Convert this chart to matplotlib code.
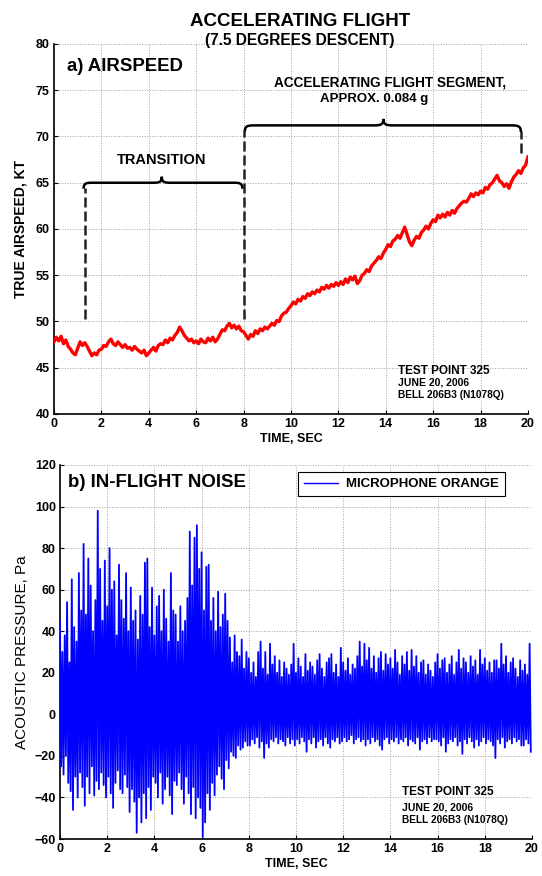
import numpy as np
import matplotlib
matplotlib.use("Agg")
from matplotlib import pyplot as plt
from matplotlib.path import Path
from matplotlib.patches import PathPatch

plt.rcParams["font.family"] = ["Liberation Sans", "DejaVu Sans"]
plt.rcParams["font.weight"] = "bold"

# airspeed, kt, sampled every 0.1 s from 0 to 20 s
airspeed = [
    47.8, 48.3, 47.9, 48.4, 47.6, 48.0, 47.3, 47.0, 46.6, 46.4,
    47.1, 47.8, 47.4, 47.7, 47.3, 46.8, 46.3, 46.6, 46.4, 46.9,
    47.0, 47.4, 47.3, 47.8, 48.1, 47.6, 47.4, 47.8, 47.5, 47.2,
    47.5, 47.1, 47.2, 46.9, 47.3, 47.0, 46.8, 46.6, 46.9, 46.3,
    46.6, 46.9, 47.2, 46.8, 47.4, 47.6, 47.5, 48.0, 47.7, 48.2,
    48.0, 48.5, 48.8, 49.4, 49.0, 48.5, 48.2, 47.9, 48.1, 47.7,
    47.9, 47.6, 48.1, 47.8, 47.7, 48.2, 47.9, 48.3, 47.8, 48.1,
    48.6, 49.1, 49.0, 49.5, 49.8, 49.3, 49.6, 49.2, 49.5, 49.0,
    48.9, 48.5, 48.1, 48.6, 48.4, 49.0, 48.7, 49.2, 49.0, 49.4,
    49.2, 49.5, 49.8, 49.6, 50.1, 50.0, 50.6, 50.9, 51.0, 51.4,
    51.7, 52.1, 51.9, 52.4, 52.2, 52.7, 52.5, 53.0, 52.8, 53.2,
    53.0, 53.4, 53.2, 53.7, 53.5, 53.9, 53.6, 54.0, 53.8, 54.2,
    53.9, 54.3, 54.0, 54.6, 54.2, 54.8, 54.5, 54.9, 54.1, 54.4,
    55.0, 55.2, 55.6, 55.4, 56.0, 56.3, 56.6, 57.0, 56.8, 57.4,
    57.8, 58.3, 58.1, 58.7, 58.9, 59.3, 59.0, 59.6, 60.2, 59.4,
    58.6, 58.2, 58.8, 59.2, 59.0, 59.6, 59.9, 60.3, 60.0, 60.6,
    61.0, 60.8, 61.5, 61.2, 61.6, 61.3, 61.8, 61.5, 62.0, 61.7,
    62.2, 62.5, 62.8, 63.0, 62.9, 63.3, 63.8, 63.5, 63.9, 63.7,
    64.1, 63.9, 64.5, 64.3, 64.8, 65.0, 65.4, 65.8, 65.2, 65.0,
    64.6, 64.9, 64.4, 65.1, 65.6, 65.9, 66.3, 66.0, 66.6, 66.9,
    67.8,
]

# acoustic pressure, Pa: positive and negative swing in each 0.1 s slot
noise_hi = [
    45, 30, 38, 54, 25, 65, 42, 35, 68, 50,
    82, 48, 75, 62, 40, 55, 98, 70, 45, 74,
    52, 80, 60, 64, 38, 72, 55, 46, 68, 40,
    61, 45, 50, 36, 57, 48, 73, 75, 42, 61,
    38, 52, 57, 40, 60, 46, 35, 68, 50, 48,
    35, 52, 40, 45, 56, 88, 62, 85, 91, 70,
    78, 50, 71, 72, 45, 56, 40, 59, 42, 48,
    58, 45, 37, 25, 38, 30, 28, 36, 22, 30,
    27, 20, 25, 18, 30, 35, 22, 30, 19, 34,
    24, 28, 20, 26, 18, 25, 22, 19, 24, 34,
    20, 27, 23, 18, 29, 21, 25, 23, 19, 26,
    29, 22, 18, 25, 27, 29, 20, 24, 18, 32,
    25, 21, 27, 19, 24, 22, 28, 35, 23, 34,
    26, 32, 22, 28, 20, 27, 30, 21, 29, 24,
    27, 22, 31, 25, 19, 28, 24, 30, 21, 31,
    23, 28, 20, 25, 26, 19, 24, 21, 18, 25,
    29, 22, 26, 27, 20, 24, 28, 19, 25, 31,
    22, 27, 25, 20, 28, 23, 26, 19, 31, 24,
    27, 21, 25, 20, 26, 26, 22, 34, 24, 28,
    20, 25, 27, 22, 18, 26, 21, 24, 19, 34,
]
noise_lo = [
    -25, -29, -20, -33, -37, -46, -30, -40, -28, -35,
    -44, -30, -38, -25, -39, -32, -36, -28, -34, -40,
    -30, -38, -45, -33, -27, -36, -38, -29, -35, -47,
    -36, -42, -57, -40, -52, -38, -50, -35, -46, -30,
    -33, -40, -28, -43, -36, -30, -39, -48, -32, -34,
    -28, -36, -43, -30, -38, -48, -35, -50, -40, -45,
    -59, -52, -38, -46, -33, -39, -29, -25, -31, -36,
    -22, -26, -18, -20, -21, -15, -17, -16, -13, -15,
    -15, -12, -14, -11, -16, -13, -21, -14, -16, -12,
    -13, -11, -14, -12, -13, -15, -11, -14, -12, -15,
    -12, -14, -11, -13, -18, -12, -14, -11, -16, -13,
    -12, -15, -11, -14, -16, -12, -13, -11, -14, -13,
    -11, -13, -12, -10, -14, -12, -11, -13, -12, -15,
    -12, -14, -11, -13, -12, -15, -17, -12, -11, -14,
    -12, -13, -11, -14, -12, -13, -11, -15, -12, -13,
    -14, -11, -17, -13, -12, -14, -11, -13, -12, -12,
    -13, -15, -11, -18, -14, -12, -13, -11, -15, -13,
    -19, -12, -14, -11, -13, -16, -12, -15, -13, -11,
    -14, -12, -13, -15, -21, -12, -14, -11, -16, -13,
    -12, -14, -11, -13, -12, -15, -15, -12, -14, -18,
]

t_air = np.arange(len(airspeed)) * 0.1
t_noise = np.arange(len(noise_hi)) * 0.1
# interleave the swings so the trace alternates up/down
t_zig = np.column_stack([t_noise, t_noise + 0.05]).ravel()
p_zig = np.column_stack([noise_hi, noise_lo]).ravel()


def brace(ax, x0, x1, xm, y, h, dx):
    verts = [
        (x0, y - h), (x0, y - 0.1 * h), (x0 + 0.3 * dx, y), (x0 + dx, y),
        (xm - dx, y),
        (xm - 0.3 * dx, y), (xm, y + 0.1 * h), (xm, y + h),
        (xm, y + 0.1 * h), (xm + 0.3 * dx, y), (xm + dx, y),
        (x1 - dx, y),
        (x1 - 0.3 * dx, y), (x1, y - 0.1 * h), (x1, y - h),
    ]
    codes = [Path.MOVETO] + [Path.CURVE4] * 3 + [Path.LINETO] + [Path.CURVE4] * 6 \
        + [Path.LINETO] + [Path.CURVE4] * 3
    ax.add_patch(PathPatch(Path(verts, codes), fill=False, lw=1.8, color="black", zorder=4))


def style(ax):
    ax.grid(True, linestyle=":", color="#a0a0a0", linewidth=0.7)
    ax.spines["top"].set_visible(False)
    ax.spines["right"].set_visible(False)
    ax.spines["left"].set_linewidth(1.2)
    ax.spines["bottom"].set_linewidth(1.2)
    ax.tick_params(direction="in", length=3, labelsize=9, pad=3)
    for lab in ax.get_xticklabels() + ax.get_yticklabels():
        lab.set_fontweight("bold")


fig = plt.figure(figsize=(5.42, 8.76), dpi=100)
ax1 = fig.add_axes([0.0996, 0.5274, 0.8745, 0.4224])
ax2 = fig.add_axes([0.1107, 0.0422, 0.8708, 0.4270])

fig.text(300 / 542, 1 - 21 / 876, "ACCELERATING FLIGHT", ha="center", va="center",
         fontsize=13.5, fontweight="bold")
fig.text(300 / 542, 1 - 41 / 876, "(7.5 DEGREES DESCENT)", ha="center", va="center",
         fontsize=11.2, fontweight="bold")

# a) airspeed
ax1.plot(t_air, airspeed, color="red", lw=2.4, zorder=3)
ax1.set_xlim(0, 20)
ax1.set_ylim(40, 80)
ax1.set_xticks(np.arange(0, 21, 2))
ax1.set_yticks(np.arange(40, 81, 5))
ax1.set_xlabel("TIME, SEC", fontsize=9, fontweight="bold", labelpad=2)
ax1.set_ylabel("TRUE AIRSPEED, KT", fontsize=10, fontweight="bold", labelpad=6)
style(ax1)
ax1.text(0.027, 0.94, "a) AIRSPEED", transform=ax1.transAxes, fontsize=13.4,
         fontweight="bold", va="center")

dash = dict(color="#222222", lw=1.8, linestyle=(0, (4, 1.6)), zorder=4)
ax1.plot([1.3, 1.3], [50.3, 64.4], **dash)
ax1.plot([8.0, 8.0], [50.3, 70.6], **dash)
ax1.plot([19.7, 19.7], [68.2, 70.6], **dash)
brace(ax1, 1.25, 7.95, 4.55, 65.0, 0.65, 0.35)
brace(ax1, 8.05, 19.7, 13.9, 71.2, 0.7, 0.4)
ax1.text(4.55, 67.5, "TRANSITION", ha="center", va="center", fontsize=10.5, fontweight="bold")
ax1.text(14.2, 75.8, "ACCELERATING FLIGHT SEGMENT,", ha="center", va="center",
         fontsize=9.8, fontweight="bold")
ax1.text(13.5, 74.1, "APPROX. 0.084 g", ha="center", va="center",
         fontsize=9.5, fontweight="bold")
ax1.text(14.5, 44.6, "TEST POINT 325", fontsize=8.5, fontweight="bold", va="center")
ax1.text(14.5, 43.4, "JUNE 20, 2006", fontsize=7.5, fontweight="bold", va="center")
ax1.text(14.5, 42.0, "BELL 206B3 (N1078Q)", fontsize=7.3, fontweight="bold", va="center")

# b) in-flight noise
ax2.plot(t_zig, p_zig, color="#0000ff", lw=1.3, label="MICROPHONE ORANGE", zorder=3)
ax2.set_xlim(0, 20)
ax2.set_ylim(-60, 120)
ax2.set_xticks(np.arange(0, 21, 2))
ax2.set_yticks(np.arange(-60, 121, 20))
ax2.set_xlabel("TIME, SEC", fontsize=9, fontweight="bold", labelpad=2)
ax2.set_ylabel("ACOUSTIC PRESSURE, Pa", fontsize=11, fontweight="normal", labelpad=4)
style(ax2)
ax2.text(0.017, 0.952, "b) IN-FLIGHT NOISE", transform=ax2.transAxes, fontsize=13.4,
         fontweight="bold", va="center")
leg = ax2.legend(loc="upper right", bbox_to_anchor=(0.943, 0.981), fontsize=9.5,
                 handlelength=2.6, handletextpad=0.6, fancybox=False, edgecolor="black",
                 framealpha=1, borderpad=0.45, borderaxespad=0)
leg.get_frame().set_linewidth(0.8)
leg.get_lines()[0].set_linewidth(1.0)
for txt in leg.get_texts():
    txt.set_fontweight("bold")
ax2.text(14.5, -37.5, "TEST POINT 325", fontsize=8.5, fontweight="bold", va="center")
ax2.text(14.5, -44.8, "JUNE 20, 2006", fontsize=7.5, fontweight="bold", va="center")
ax2.text(14.5, -51.0, "BELL 206B3 (N1078Q)", fontsize=7.3, fontweight="bold", va="center")

fig.savefig("out.png", dpi=100)
